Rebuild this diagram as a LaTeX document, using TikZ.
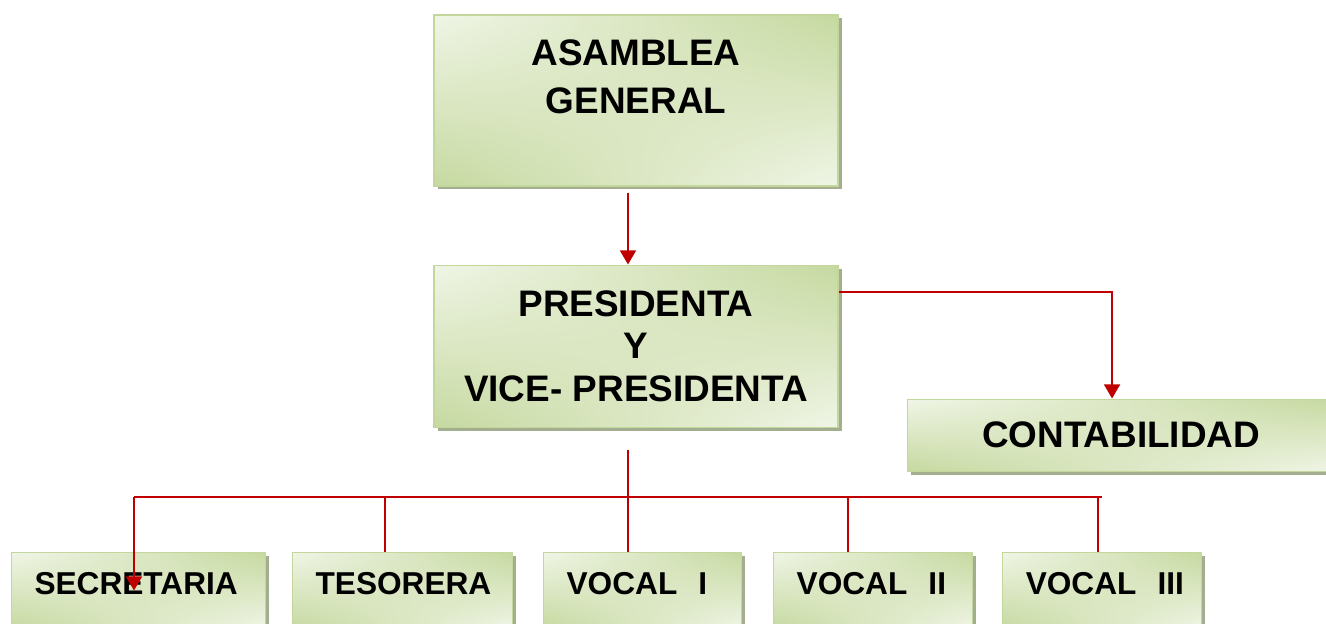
\documentclass[tikz,border=0pt]{standalone}
\usepackage{fontspec}
\setmainfont{Liberation Sans}
\usetikzlibrary{arrows.meta,positioning,shadows,shadings}
\definecolor{lineRed}{RGB}{192,0,0}
\definecolor{boxLight}{RGB}{240,245,230}
\definecolor{boxGreen}{RGB}{198,217,160}
\definecolor{boxEdge}{RGB}{195,214,155}
\definecolor{boxShadow}{RGB}{163,173,143}
\tikzset{
    box/.style =    {rectangle,
                    draw=boxEdge,
                    line width=0.6pt,
                    upper left=boxLight,
                    upper right=boxGreen,
                    lower left=boxGreen,
                    lower right=boxLight,
                    drop shadow={shadow xshift=0.07cm,shadow yshift=-0.07cm,fill=boxShadow,opacity=1},
                    text=black,
                    align=center,
                    inner sep=0pt},
    head/.style =   {box,
                    font=\fontsize{21}{27}\selectfont\bfseries,
                    minimum width=8.08cm},
    dept/.style =   {box,
                    font=\fontsize{18}{22}\selectfont\bfseries,
                    align=left,
                    execute at begin node=\hspace*{0.46cm},
                    text height=0.84cm,
                    text depth=0.68cm},
    link/.style =   {draw=lineRed,
                    line width=1.2pt},
    >={Triangle[width=9pt,length=8pt]}}

\begin{document}
\begin{tikzpicture}[node distance=0.58cm]
                \useasboundingbox (0,0) rectangle (26.52,-12.48);

                \node[head,minimum height=3.42cm]   (asam) at (12.72,-2.01)                 {ASAMBLEA\\GENERAL\\\mbox{}};
                \node[head,minimum height=3.24cm,font=\fontsize{21}{24.2}\selectfont\bfseries]
                                                    (pres) [below=1.56cm of asam]           {PRESIDENTA\\Y\\VICE- PRESIDENTA};
                \node[head,minimum width=8.56cm,minimum height=1.44cm]
                                                    (cont) [right=1.36cm of pres,yshift=-1.78cm] {CONTABILIDAD};

                \node[dept,text width=5.08cm]       (sec)  [anchor=north west] at (0.22,-11.04) {SECRETARIA};
                \node[dept,text width=4.40cm]       (tes)  [right=0.52cm of sec]            {TESORERA};
                \node[dept,text width=3.96cm]       (voc1) [right=0.60cm of tes]            {VOCAL\ \ I};
                \node[dept,text width=3.98cm]       (voc2) [right=0.62cm of voc1]           {VOCAL\ \ II};
                \node[dept,text width=3.98cm]       (voc3) [right=of voc2]                  {VOCAL\ \ III};

                % points on the red bus line
                \coordinate (drop) at ([xshift=-0.16cm,yshift=-0.44cm]pres.south);
                \coordinate (busL) at (2.68,-9.94);
                \coordinate (busR) at (22.04,-9.94);

                \draw [link,->]     ([xshift=-0.16cm,yshift=-0.12cm]asam.south) -- ([xshift=-0.16cm]pres.north);
                \draw [link,->]     ([yshift=1.08cm]pres.east) -| ([xshift=-0.18cm]cont.north);
                \draw [link]        (busL) -- (busR);
                \draw [link,->]     (busL) -- (busL |- sec.center);
                \draw [link]        (drop) -- (drop |- voc1.north);
                \foreach \x/\n in {7.70/tes,16.96/voc2,21.96/voc3}{
                    \coordinate (bus\n) at (\x,-9.94);
                    \draw [link]    (bus\n) -- (bus\n |- \n.north);
                }
        \end{tikzpicture}
\end{document}
